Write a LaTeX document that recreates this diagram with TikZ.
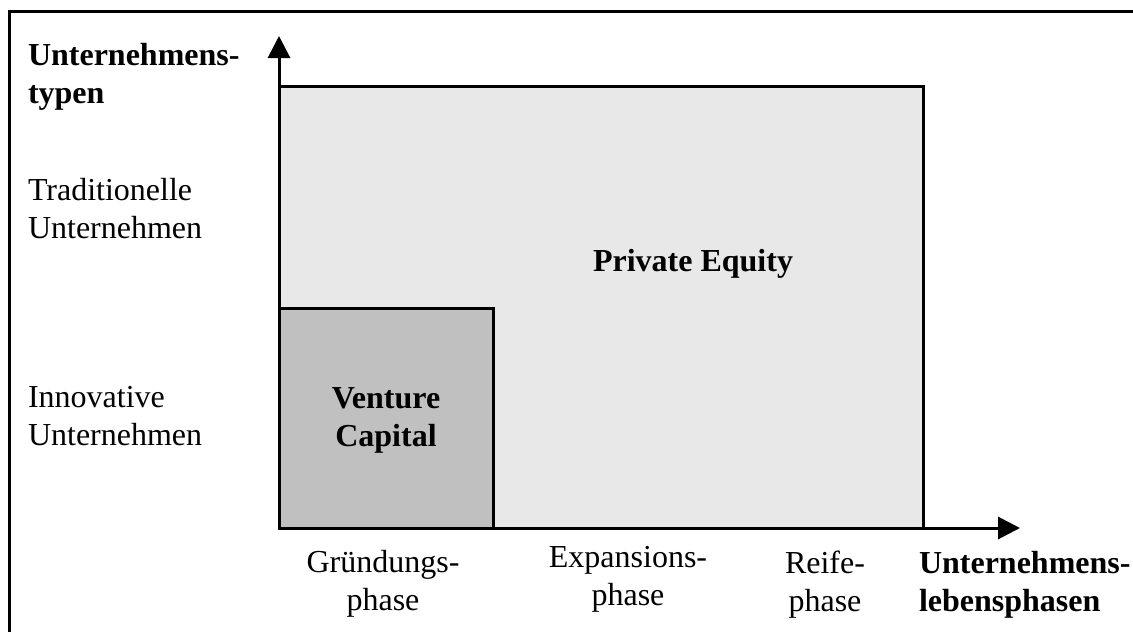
\documentclass[tikz,border=0pt]{standalone}
\usepackage{fontspec}
\setmainfont{Liberation Serif}
\usetikzlibrary{arrows.meta}
\begin{document}
\begin{tikzpicture}[x=1pt,y=-1pt,
  lbl/.style={inner sep=0pt,outer sep=0pt,font=\fontsize{32}{38}\selectfont},
  lblbold/.style={lbl,font=\fontsize{32}{38}\selectfont\bfseries},
  area/.style={draw=black,line width=3pt,inner sep=0pt,outer sep=0pt,anchor=south west},
  axis/.style={line width=3pt,-{Triangle[length=22pt,width=22pt]}}]
  \useasboundingbox (0,0) rectangle (1133,632);
  % frame (top and left edges)
  \draw[line width=3pt] (9,632) -- (9,11) -- (1133,11);
  % areas
  \node[area,fill={rgb,255:red,232;green,232;blue,232},minimum width=644pt,minimum height=442pt] (pe) at (279,528) {};
  \node[area,fill={rgb,255:red,192;green,192;blue,192},minimum width=214pt,minimum height=220pt] (vc) at (279,528) {};
  % axes
  \coordinate (o) at (279,528);
  \coordinate (ytip) at (279,36);
  \coordinate (xtip) at (1020,528);
  \draw[axis] (o) -- (ytip);
  \draw[axis] (o) -- (xtip);
  % labels inside areas
  \node[lblbold,align=center] (pel) at (693,264) {Private Equity};
  \node[lblbold,align=center,anchor=north] (vcl) at (vc.center |- 0,388) {Venture\\Capital};
  % vertical axis labels
  \node[lblbold,align=left,anchor=north west] (ylab) at (28,43) {Unternehmens-\\typen};
  \node[lbl,align=left,anchor=north west] (trad) at (28,178) {Traditionelle\\Unternehmen};
  \node[lbl,align=left,anchor=north west] (inno) at (28,386) {Innovative\\Unternehmen};
  % horizontal axis labels
  \node[lbl,align=center,anchor=north] (gr) at (383,550) {Gründungs-\\phase};
  \node[lbl,align=center,anchor=north] (ex) at (628,546) {Expansions-\\phase};
  \node[lbl,align=center,anchor=north] (re) at (825,551) {Reife-\\phase};
  \node[lblbold,align=left,anchor=north west] (xlab) at (919,551) {Unternehmens-\\lebensphasen};
\end{tikzpicture}
\end{document}
